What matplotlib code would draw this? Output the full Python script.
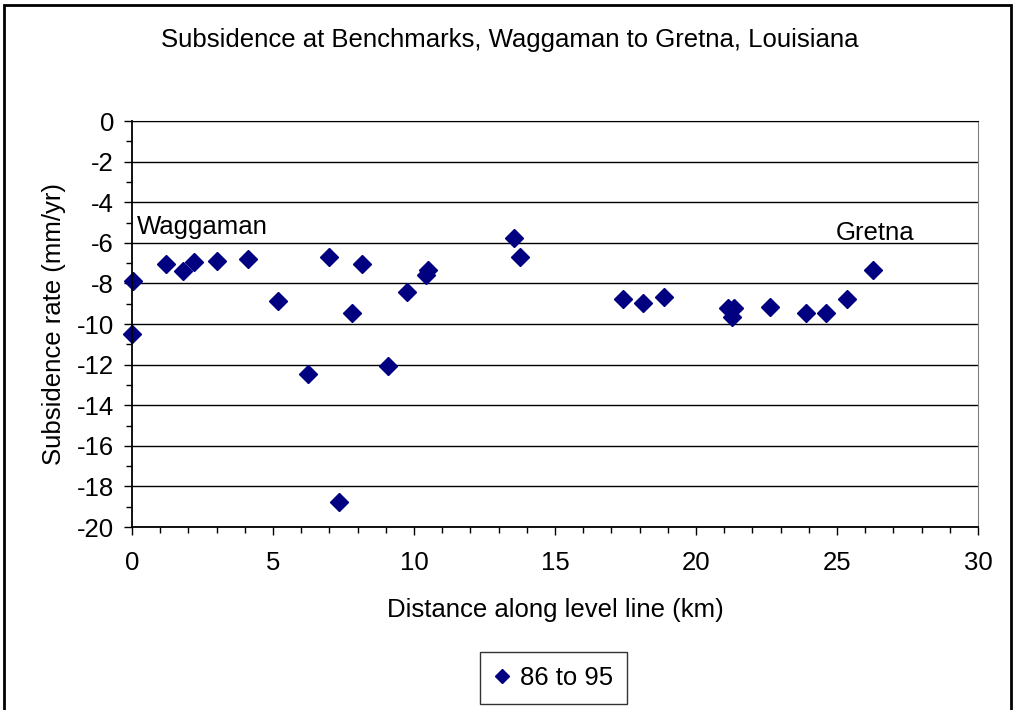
import matplotlib
matplotlib.use("Agg")
import matplotlib.pyplot as plt
from matplotlib.patches import Rectangle
from matplotlib.ticker import MultipleLocator

plt.rcParams['font.family'] = ['Liberation Sans', 'DejaVu Sans']
plt.rcParams['axes.unicode_minus'] = False

# distance along level line (km) and subsidence rate (mm/yr), 1986 to 1995
distance = [0.04, 0.0, 1.21, 1.81, 2.20, 3.01, 4.11, 5.18, 6.24, 6.99,
            7.34, 7.80, 8.16, 9.08, 9.75, 10.43, 10.50, 13.55, 13.76, 17.41,
            18.12, 18.87, 21.13, 21.35, 21.28, 22.62, 23.90, 24.61, 25.35, 26.28]
rate = [-7.88, -10.49, -7.04, -7.39, -6.95, -6.90, -6.80, -8.87, -12.46, -6.70,
        -18.77, -9.46, -7.04, -12.07, -8.42, -7.59, -7.34, -5.76, -6.70, -8.77,
        -8.97, -8.67, -9.21, -9.21, -9.66, -9.16, -9.46, -9.46, -8.77, -7.34]

fs = 18.5

fig = plt.figure(figsize=(10.14, 7.10), dpi=100)
ax = fig.add_axes([0.1302, 0.2577, 0.8343, 0.5718])

ax.plot(distance, rate, linestyle='none', marker='D', markersize=9,
        color='#000080', label='86 to 95', clip_on=False)

ax.set_xlim(0, 30)
ax.set_ylim(-20, 0)
ax.xaxis.set_major_locator(MultipleLocator(5))
ax.xaxis.set_minor_locator(MultipleLocator(1))
ax.yaxis.set_major_locator(MultipleLocator(2))
ax.yaxis.set_minor_locator(MultipleLocator(1))
ax.tick_params(which='both', direction='out', length=6, width=1, color='black',
               labelsize=fs)
ax.tick_params(which='minor', length=4.5)
ax.tick_params(axis='x', pad=11)
ax.tick_params(axis='y', pad=7)
ax.grid(axis='y', which='major', color='black', linewidth=1)
ax.set_axisbelow(True)

ax.spines['left'].set_color('black')
ax.spines['bottom'].set_color('black')
ax.spines['left'].set_linewidth(1.3)
ax.spines['bottom'].set_linewidth(1.3)
ax.spines['right'].set_color('#808080')
ax.spines['top'].set_color('black')

ax.set_xlabel('Distance along level line (km)', fontsize=fs, labelpad=17)
ax.set_ylabel('Subsidence rate (mm/yr)', fontsize=fs, labelpad=8)

ax.text(0.18, -5.57, 'Waggaman', fontsize=fs, va='baseline', ha='left')
ax.text(24.96, -5.86, 'Gretna', fontsize=fs, va='baseline', ha='left')

fig.text(0.503, 0.943, 'Subsidence at Benchmarks, Waggaman to Gretna, Louisiana',
         fontsize=fs, ha='center', va='center')

leg = fig.legend(loc='center', bbox_to_anchor=(0.546, 0.045), fontsize=fs,
                 frameon=True, fancybox=False, edgecolor='black',
                 handlelength=0.6, handletextpad=0.4, borderpad=0.55,
                 borderaxespad=0, markerscale=0.8)
leg.get_frame().set_linewidth(1)

# outer chart border
fig.patches.append(Rectangle((3.5 / 1014, -0.01), 1007 / 1014, 1 - 4.5 / 710 + 0.01,
                             transform=fig.transFigure, fill=False,
                             edgecolor='black', linewidth=2))

fig.savefig('out.png', dpi=100)
